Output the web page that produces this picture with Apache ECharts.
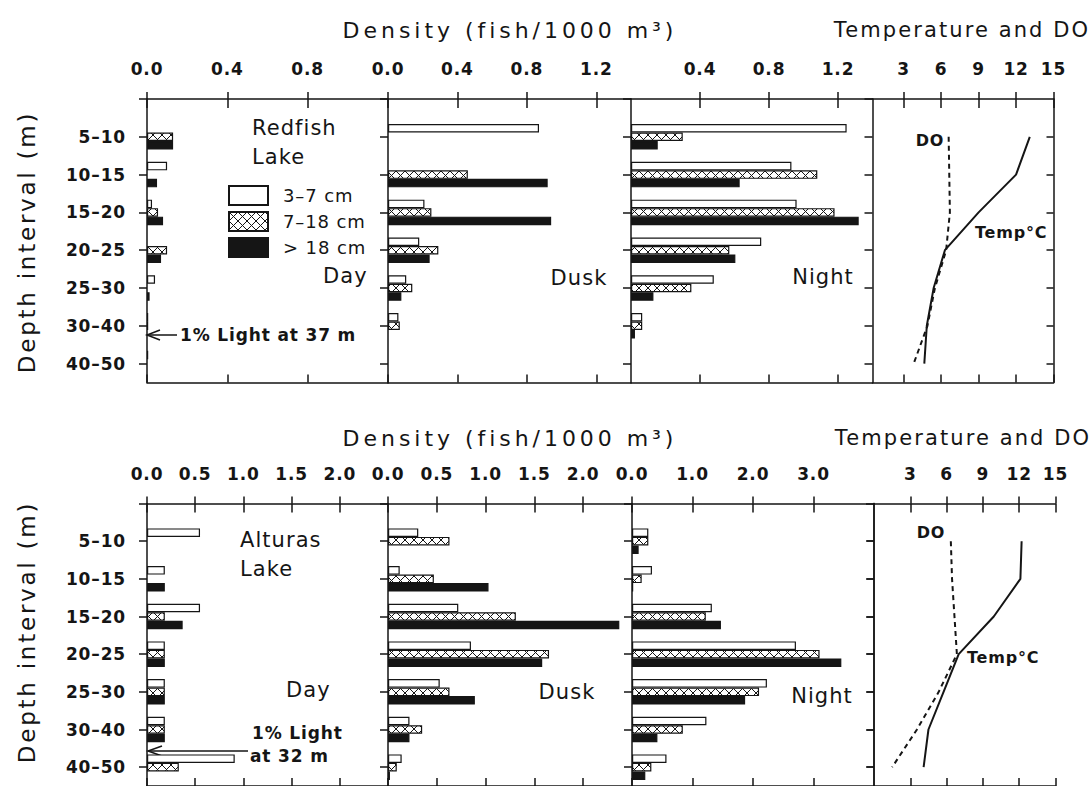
<!DOCTYPE html>
<html>
<head>
<meta charset="utf-8">
<title>Fish density by depth – Redfish and Alturas lakes</title>
<script src="https://cdn.jsdelivr.net/npm/echarts@6.0.0/dist/echarts.min.js"></script>
<style>
  html, body { margin: 0; padding: 0; background: #fff; }
  #main { width: 1092px; height: 786px; }
</style>
</head>
<body>
<div id="main"></div>
<script>
const ink = '#151515';
const font = 'DejaVu Sans';

const depthBins = ['5–10', '10–15', '15–20', '20–25', '25–30', '30–40', '40–50'];
const sizeClasses = ['3–7 cm', '7–18 cm', '> 18 cm'];

// Redfish Lake, fish/1000 m3
const redDaySmall   = [0, 0.10, 0.025, 0, 0.04, 0.006, 0.006];
const redDayMid     = [0.13, 0, 0.055, 0.10, 0, 0.006, 0];
const redDayLarge   = [0.13, 0.05, 0.08, 0.07, 0.013, 0, 0];
const redDuskSmall  = [0.87, 0, 0.21, 0.18, 0.105, 0.06, 0];
const redDuskMid    = [0, 0.46, 0.25, 0.29, 0.14, 0.068, 0];
const redDuskLarge  = [0, 0.92, 0.94, 0.24, 0.077, 0, 0];
const redNightSmall = [1.25, 0.93, 0.96, 0.755, 0.48, 0.065, 0];
const redNightMid   = [0.30, 1.08, 1.18, 0.57, 0.35, 0.065, 0];
const redNightLarge = [0.155, 0.63, 1.32, 0.605, 0.13, 0.023, 0];
const redTemp = [13.1, 12.0, 9.0, 6.3, 5.4, 4.85, 4.65];
const redDO   = [6.6, 6.65, 6.7, 6.4, 5.5, 4.9, 3.8];

// Alturas Lake, fish/1000 m3
const altDaySmall   = [0.55, 0.185, 0.55, 0.185, 0.185, 0.185, 0.91];
const altDayMid     = [0, 0, 0.185, 0.185, 0.185, 0.185, 0.33];
const altDayLarge   = [0, 0.185, 0.37, 0.185, 0.185, 0.185, 0];
const altDuskSmall  = [0.31, 0.12, 0.72, 0.85, 0.53, 0.22, 0.14];
const altDuskMid    = [0.63, 0.47, 1.31, 1.65, 0.63, 0.35, 0.09];
const altDuskLarge  = [0, 1.03, 2.37, 1.58, 0.89, 0.22, 0.02];
const altNightSmall = [0.27, 0.33, 1.32, 2.71, 2.23, 1.23, 0.57];
const altNightMid   = [0.27, 0.16, 1.22, 3.10, 2.10, 0.84, 0.32];
const altNightLarge = [0.11, 0.02, 1.47, 3.46, 1.87, 0.42, 0.22];
const altTemp = [12.2, 12.1, 9.9, 7.0, 5.75, 4.5, 4.1];
const altDO   = [6.35, 6.45, 6.65, 6.85, 5.35, 3.55, 1.5];

// axis ticks / labels
const redDayTicks = [0, 0.4, 0.8];
const redDuskTicks = [0, 0.4, 0.8, 1.2];
const redNightTicks = [0.4, 0.8, 1.2];
const altDayTicks = [0, 0.5, 1.0, 1.5, 2.0];
const altNightTicks = [0, 1, 2, 3];
const tempTicks = [3, 6, 9, 12, 15];

// 16 slots down the depth axis, bins sit on the even ones
const slots = [];
for (let i = 0; i < 16; i++) slots.push('');
depthBins.forEach((d, i) => { slots[2 * i + 2] = d; });
const slotOf = i => 2 * i + 2;

function makeHatch () {
  const c = document.createElement('canvas');
  c.width = 9; c.height = 9;
  const ctx = c.getContext('2d');
  ctx.fillStyle = '#fff';
  ctx.fillRect(0, 0, 9, 9);
  ctx.strokeStyle = ink;
  ctx.lineWidth = 1;
  ctx.beginPath();
  ctx.moveTo(0, 0); ctx.lineTo(9, 9);
  ctx.moveTo(9, 0); ctx.lineTo(0, 9);
  ctx.stroke();
  return c;
}
const classStyles = [
  { color: '#fff', borderColor: ink, borderWidth: 1.2 },
  { color: { image: makeHatch(), repeat: 'repeat' }, borderColor: ink, borderWidth: 1.2 },
  { color: ink, borderColor: ink, borderWidth: 1.2 }
];

const upper = { top: 99, height: 283.5, margin: 22 };
const lower = { top: 503.5, height: 284, margin: 21 };
const dens = v => v.toFixed(1);
const deg = v => String(v);

const panels = [
  { row: upper, left: 147, width: 241, min: 0, max: 1.2, ticks: redDayTicks, labels: redDayTicks, fmt: dens, yLabels: true, bars: [redDaySmall, redDayMid, redDayLarge] },
  { row: upper, left: 388, width: 243, min: 0, max: 1.4, ticks: redDuskTicks, labels: redDuskTicks, fmt: dens, bars: [redDuskSmall, redDuskMid, redDuskLarge] },
  { row: upper, left: 631, width: 241.5, min: 0, max: 1.4, ticks: redNightTicks, labels: redNightTicks, fmt: dens, bars: [redNightSmall, redNightMid, redNightLarge] },
  { row: upper, left: 872.5, width: 181, min: 0.5, max: 15, ticks: tempTicks, labels: tempTicks, fmt: deg, temp: redTemp, dox: redDO },
  { row: lower, left: 147, width: 241, min: 0, max: 2.5, ticks: altDayTicks, labels: altDayTicks, fmt: dens, yLabels: true, bars: [altDaySmall, altDayMid, altDayLarge] },
  { row: lower, left: 388, width: 244, min: 0, max: 2.5, ticks: altDayTicks, labels: altDayTicks, fmt: dens, bars: [altDuskSmall, altDuskMid, altDuskLarge] },
  { row: lower, left: 632, width: 242, min: 0, max: 4, ticks: altNightTicks, labels: altNightTicks, fmt: dens, bars: [altNightSmall, altNightMid, altNightLarge] },
  { row: lower, left: 874, width: 181.5, min: 0, max: 15, ticks: tempTicks, labels: tempTicks, fmt: deg, temp: altTemp, dox: altDO }
];

const line = { color: ink, width: 1.5 };
const grid = [], xAxis = [], yAxis = [], series = [];

panels.forEach((p, g) => {
  grid.push({ left: p.left, top: p.row.top, width: p.width, height: p.row.height });

  const base = { gridIndex: g, type: 'value', min: p.min, max: p.max, splitLine: { show: false } };
  const xi = xAxis.length;
  // top axis: labels + ticks poking out
  xAxis.push(Object.assign({}, base, {
    position: 'top',
    axisLine: { show: true, lineStyle: line },
    axisTick: { show: true, inside: false, length: 7, customValues: p.ticks, lineStyle: line },
    axisLabel: { show: true, customValues: p.labels, margin: p.row.margin, formatter: p.fmt,
      color: ink, fontFamily: font, fontWeight: 'bold', fontSize: 17 }
  }));
  // same ticks reaching into the panel
  xAxis.push(Object.assign({}, base, {
    position: 'top',
    axisLine: { show: false },
    axisTick: { show: true, inside: true, length: 9, customValues: p.ticks, lineStyle: line },
    axisLabel: { show: false }
  }));
  // bottom frame
  xAxis.push(Object.assign({}, base, {
    position: 'bottom',
    axisLine: { show: true, lineStyle: line },
    axisTick: { show: true, inside: true, length: 8, customValues: p.ticks, lineStyle: line },
    axisLabel: { show: false }
  }));

  const yBase = { gridIndex: g, type: 'category', data: slots, boundaryGap: false, inverse: true, splitLine: { show: false } };
  const yi = yAxis.length;
  yAxis.push(Object.assign({}, yBase, {
    position: 'left',
    axisLine: { show: true, lineStyle: line },
    axisTick: { show: true, inside: false, length: 8, interval: i => i % 2 === 0 && i < 15, lineStyle: line },
    axisLabel: { show: !!p.yLabels, interval: i => slots[i] !== '', margin: 21,
      color: ink, fontFamily: font, fontWeight: 'bold', fontSize: 17 }
  }));

  if (p.temp) {
    yAxis.push(Object.assign({}, yBase, {
      position: 'right',
      axisLine: { show: true, lineStyle: line },
      axisTick: { show: true, inside: true, length: 7, interval: i => i % 2 === 0 && i > 0 && i < 15, lineStyle: line },
      axisLabel: { show: false }
    }));
    series.push({
      type: 'line', name: 'Temp', xAxisIndex: xi, yAxisIndex: yi, silent: true,
      data: p.temp.map((v, i) => [v, slotOf(i)]),
      symbol: 'none', lineStyle: { color: ink, width: 2 }
    });
    series.push({
      type: 'line', name: 'DO', xAxisIndex: xi, yAxisIndex: yi, silent: true,
      data: p.dox.map((v, i) => [v, slotOf(i)]),
      symbol: 'none', lineStyle: { color: ink, width: 2, type: [5, 4] }
    });
  } else {
    p.bars.forEach((vals, k) => {
      series.push({
        type: 'bar', name: sizeClasses[k], xAxisIndex: xi, yAxisIndex: yi, silent: true,
        barWidth: 8.5, barGap: '0%',
        data: vals.map((v, i) => [v, slotOf(i)]).filter(d => d[0] > 0),
        itemStyle: classStyles[k]
      });
    });
  }
});

function txt (text, x, y, size, opts) {
  opts = opts || {};
  return {
    type: 'text', x: x, y: y, rotation: opts.rot || 0, silent: true,
    style: {
      text: text, fill: ink, align: opts.align || 'left', verticalAlign: 'middle',
      font: (opts.bold ? 'bold ' : '') + size + 'px "' + font + '"'
    }
  };
}
const stroke = { stroke: ink, lineWidth: 1.5, fill: null };

const graphic = [
  txt('Density (fish/1000 m³)', 510, 30, 22, { align: 'center' }),
  txt('Temperature and DO', 962, 30, 21, { align: 'center' }),
  txt('Density (fish/1000 m³)', 510, 438, 22, { align: 'center' }),
  txt('Temperature and DO', 963, 438, 21, { align: 'center' }),
  txt('Depth interval (m)', 27, 242, 23, { align: 'center', rot: Math.PI / 2 }),
  txt('Depth interval (m)', 27, 632, 23, { align: 'center', rot: Math.PI / 2 }),

  txt('Redfish', 252, 128, 21),
  txt('Lake', 252, 157, 21),
  txt('Day', 323, 276, 21),
  txt('Dusk', 579, 278, 21, { align: 'center' }),
  txt('Night', 823, 277, 21, { align: 'center' }),
  txt('DO', 930, 140, 16, { align: 'center', bold: true }),
  txt('Temp°C', 975, 232, 16, { bold: true }),
  txt('1% Light at 37 m', 180, 335, 17, { bold: true }),
  { type: 'polyline', silent: true, shape: { points: [[177, 335], [147, 335]] }, style: stroke },
  { type: 'polyline', silent: true, shape: { points: [[160, 330], [147, 335], [160, 340]] }, style: stroke },

  txt('Alturas', 240, 540, 21),
  txt('Lake', 240, 569, 21),
  txt('Day', 286, 690, 21),
  txt('Dusk', 567, 692, 21, { align: 'center' }),
  txt('Night', 822, 696, 21, { align: 'center' }),
  txt('DO', 931, 532, 16, { align: 'center', bold: true }),
  txt('Temp°C', 967, 657, 16, { bold: true }),
  txt('1% Light', 252, 733, 17, { bold: true }),
  txt('at 32 m', 250, 756, 17, { bold: true }),
  { type: 'polyline', silent: true, shape: { points: [[248, 751], [148, 751]] }, style: stroke },
  { type: 'polyline', silent: true, shape: { points: [[162, 746], [148, 751], [162, 756]] }, style: stroke }
];

const chart = echarts.init(document.getElementById('main'), null, { renderer: 'svg' });
chart.setOption({
  backgroundColor: '#fff',
  animation: false,
  textStyle: { fontFamily: font },
  legend: {
    data: sizeClasses, orient: 'vertical', left: 228, top: 185, padding: 0,
    itemWidth: 39, itemHeight: 19, itemGap: 5, icon: 'rect', selectedMode: false,
    textStyle: { color: ink, fontFamily: font, fontSize: 18, padding: [0, 0, 0, 10] }
  },
  grid: grid,
  xAxis: xAxis,
  yAxis: yAxis,
  series: series,
  graphic: graphic
});

// the original lettering is widely tracked
const tracking = { 'Density (fish/1000 m³)': 0.18, 'Temperature and DO': 0.1, 'Depth interval (m)': 0.12 };
function track () {
  document.querySelectorAll('#main svg text').forEach(t => {
    const em = tracking[t.textContent];
    t.style.letterSpacing = (em != null ? em : 0.05) + 'em';
  });
}
chart.on('finished', track);
track();
</script>
</body>
</html>
